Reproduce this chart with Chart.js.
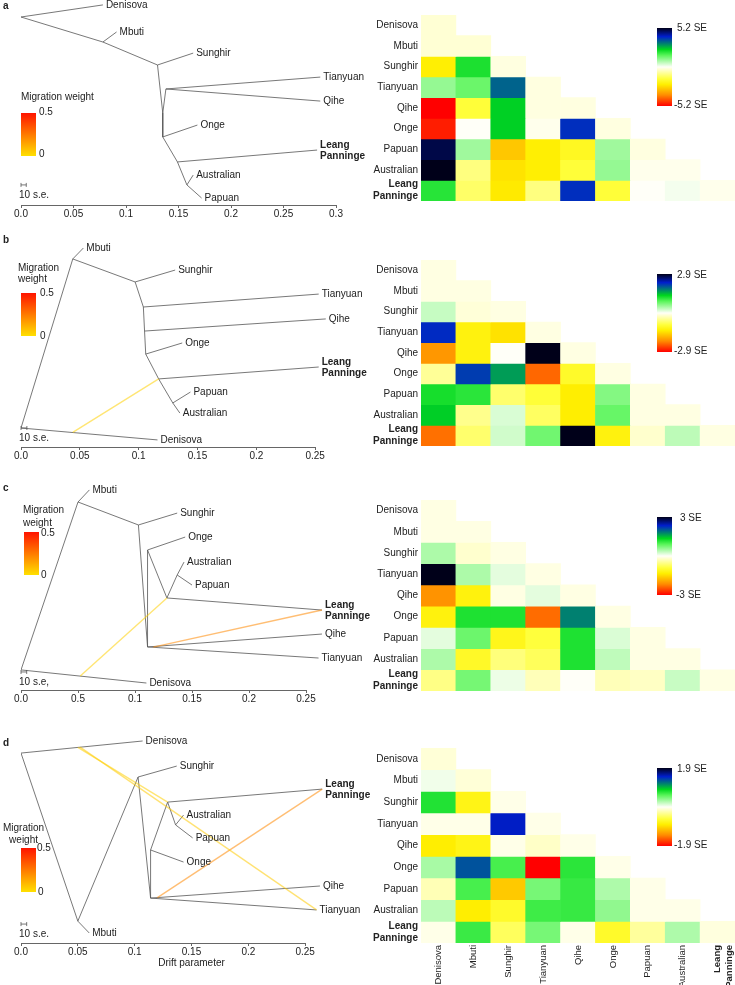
<!DOCTYPE html>
<html lang="en">
<head>
<meta charset="UTF-8">
<title>TreeMix graphs and residuals</title>
<script src="https://cdn.jsdelivr.net/npm/chart.js@4.4.1/dist/chart.umd.min.js"></script>
<style>
  body { margin:0; width:735px; height:985px; position:relative; overflow:hidden; background:#fff;
         font-family:"Liberation Sans", Arial, sans-serif; color:#222; }
  canvas { position:absolute; }
  .t { position:absolute; font-size:10px; line-height:12px; white-space:nowrap; }
  .b { font-weight:bold; }
  .mig { position:absolute; width:15px; background:linear-gradient(to bottom, #ff1400, #ff7a00 50%, #ffe000); }
  .cbar { position:absolute; left:657px; width:15px; height:78px; }
</style>
</head>
<body>
<!-- trees -->
<canvas id="treeA" width="420" height="232" style="left:0;top:-2px"></canvas>
<canvas id="treeB" width="420" height="237" style="left:0;top:235px"></canvas>
<canvas id="treeC" width="420" height="237" style="left:0;top:478px"></canvas>
<canvas id="treeD" width="420" height="262" style="left:0;top:715px"></canvas>
<!-- residual matrices -->
<canvas id="heatA" width="385" height="210" style="left:360px;top:0"></canvas>
<canvas id="heatB" width="385" height="210" style="left:360px;top:245px"></canvas>
<canvas id="heatC" width="385" height="215" style="left:360px;top:485px"></canvas>
<canvas id="heatD" width="385" height="270" style="left:360px;top:715px"></canvas>

<div class="t b" style="left:3px;top:0">a</div>
<div class="t b" style="left:3px;top:234px">b</div>
<div class="t b" style="left:3px;top:482px">c</div>
<div class="t b" style="left:3px;top:737px">d</div>

<!-- migration weight legends -->
<div class="t" style="left:21px;top:91px">Migration weight</div>
<div class="mig" style="left:21px;top:113px;height:43px"></div>
<div class="t" style="left:39px;top:106px">0.5</div>
<div class="t" style="left:39px;top:148px">0</div>

<div class="t" style="left:18px;top:262px;line-height:11px">Migration<br>weight</div>
<div class="mig" style="left:21px;top:293px;height:43px"></div>
<div class="t" style="left:40px;top:287px">0.5</div>
<div class="t" style="left:40px;top:330px">0</div>

<div class="t" style="left:23px;top:503px;line-height:13px">Migration<br>weight</div>
<div class="mig" style="left:24px;top:532px;height:43px"></div>
<div class="t" style="left:41px;top:527px">0.5</div>
<div class="t" style="left:41px;top:569px">0</div>

<div class="t" style="left:3px;top:822px;text-align:center">Migration<br>weight</div>
<div class="mig" style="left:21px;top:848px;height:44px"></div>
<div class="t" style="left:37px;top:842px">0.5</div>
<div class="t" style="left:38px;top:886px">0</div>

<!-- residual colour bars -->
<div class="cbar" id="cbarA" style="top:28px"></div>
<div class="t" style="left:677px;top:22px">5.2 SE</div>
<div class="t" style="left:674px;top:99px">-5.2 SE</div>
<div class="cbar" id="cbarB" style="top:274px"></div>
<div class="t" style="left:677px;top:269px">2.9 SE</div>
<div class="t" style="left:674px;top:345px">-2.9 SE</div>
<div class="cbar" id="cbarC" style="top:517px"></div>
<div class="t" style="left:680px;top:512px">3 SE</div>
<div class="t" style="left:676px;top:589px">-3 SE</div>
<div class="cbar" id="cbarD" style="top:768px"></div>
<div class="t" style="left:677px;top:763px">1.9 SE</div>
<div class="t" style="left:674px;top:839px">-1.9 SE</div>

<script>
  const FONT = '"Liberation Sans", Arial, sans-serif';

  // populations, in residual-matrix order
  const popLabels = ['Denisova', 'Mbuti', 'Sunghir', 'Tianyuan', 'Qihe', 'Onge', 'Papuan', 'Australian', 'Leang Panninge'];

  // drift axis ticks
  const driftTicksA = [0, 0.05, 0.1, 0.15, 0.2, 0.25, 0.3];
  const driftTickTextA = ['0.0', '0.05', '0.1', '0.15', '0.2', '0.25', '0.3'];
  const driftTicks = [0, 0.05, 0.1, 0.15, 0.2, 0.25];
  const driftTickText = ['0.0', '0.05', '0.1', '0.15', '0.2', '0.25'];
  const driftTickTextC = ['0.0', '0.5', '0.1', '0.15', '0.2', '0.25'];

  // --- tree a ---
  const nodesA = ['_r', 'Denisova', '_m', 'Mbuti', '_s', 'Sunghir', '_a', '_tq', 'Tianyuan', 'Qihe', '_o', 'Onge', '_l', 'Leang Panninge', '_ap', 'Australian', 'Papuan'];
  const driftA = [0, 0.078, 0.078, 0.091, 0.130, 0.164, 0.135, 0.138, 0.285, 0.285, 0.135, 0.168, 0.149, 0.282, 0.158, 0.164, 0.172];
  const posA = [0.917, 0.976, 0.795, 0.844, 0.683, 0.741, 0.449, 0.566, 0.624, 0.507, 0.332, 0.390, 0.210, 0.268, 0.098, 0.146, 0.034];
  const edgesA = [['_r', 'Denisova'], ['_r', '_m'], ['_m', 'Mbuti'], ['_m', '_s'], ['_s', 'Sunghir'], ['_s', '_a'], ['_a', '_tq'],
    ['_tq', 'Tianyuan'], ['_tq', 'Qihe'], ['_a', '_o'], ['_o', 'Onge'], ['_o', '_l'], ['_l', 'Leang Panninge'], ['_l', '_ap'],
    ['_ap', 'Australian'], ['_ap', 'Papuan']];
  const migA = [];

  // --- tree b ---
  const nodesB = ['_r', 'Denisova', '_m', 'Mbuti', '_s', 'Sunghir', '_t', 'Tianyuan', '_q', 'Qihe', '_o', 'Onge', '_l', 'Leang Panninge', '_ap', 'Papuan', 'Australian', '_mg1'];
  const driftB = [0, 0.116, 0.044, 0.053, 0.097, 0.131, 0.104, 0.253, 0.105, 0.259, 0.106, 0.137, 0.117, 0.253, 0.129, 0.144, 0.135, 0.044];
  const posB = [0.094, 0.035, 0.931, 0.985, 0.817, 0.876, 0.693, 0.757, 0.574, 0.634, 0.460, 0.515, 0.337, 0.396, 0.218, 0.272, 0.168, 0.072];
  const edgesB = [['_r', 'Denisova'], ['_r', '_m'], ['_m', 'Mbuti'], ['_m', '_s'], ['_s', 'Sunghir'], ['_s', '_t'], ['_t', 'Tianyuan'],
    ['_t', '_q'], ['_q', 'Qihe'], ['_q', '_o'], ['_o', 'Onge'], ['_o', '_l'], ['_l', 'Leang Panninge'], ['_l', '_ap'],
    ['_ap', 'Papuan'], ['_ap', 'Australian']];
  const migB = [['_mg1', '_l', 0.02]];

  // --- tree c ---
  const nodesC = ['_r', 'Denisova', '_m', 'Mbuti', '_s', 'Sunghir', '_x', 'Qihe', 'Tianyuan', '_o', 'Onge', '_l', 'Leang Panninge', '_ap', 'Australian', 'Papuan', '_mg1', '_mg2'];
  const driftC = [0, 0.110, 0.050, 0.060, 0.103, 0.137, 0.111, 0.264, 0.261, 0.111, 0.144, 0.128, 0.264, 0.137, 0.143, 0.150, 0.052, 0.116];
  const posC = [0.098, 0.034, 0.917, 0.976, 0.805, 0.863, 0.210, 0.273, 0.156, 0.683, 0.746, 0.449, 0.390, 0.561, 0.624, 0.512, 0.068, 0.209];
  const edgesC = [['_r', 'Denisova'], ['_r', '_m'], ['_m', 'Mbuti'], ['_m', '_s'], ['_s', 'Sunghir'], ['_s', '_x'], ['_x', 'Qihe'],
    ['_x', 'Tianyuan'], ['_x', '_o'], ['_o', 'Onge'], ['_o', '_l'], ['_l', 'Leang Panninge'], ['_l', '_ap'],
    ['_ap', 'Australian'], ['_ap', 'Papuan']];
  const migC = [['_mg1', '_l', 0.02], ['_mg2', 'Leang Panninge', 0.2]];

  // --- tree d ---
  const nodesD = ['_r', 'Denisova', '_m', 'Mbuti', '_s', 'Sunghir', '_x', 'Qihe', 'Tianyuan', '_o', 'Onge', '_l', 'Leang Panninge', '_ap', 'Australian', 'Papuan', '_mg1', '_mg2', '_mg3'];
  const driftD = [0, 0.107, 0.050, 0.060, 0.103, 0.137, 0.114, 0.263, 0.260, 0.114, 0.143, 0.129, 0.265, 0.136, 0.143, 0.151, 0.050, 0.052, 0.120];
  const posD = [0.833, 0.886, 0.096, 0.044, 0.728, 0.776, 0.197, 0.250, 0.145, 0.408, 0.355, 0.618, 0.675, 0.518, 0.561, 0.461, 0.858, 0.859, 0.199];
  const edgesD = [['_r', 'Denisova'], ['_r', '_m'], ['_m', 'Mbuti'], ['_m', '_s'], ['_s', 'Sunghir'], ['_s', '_x'], ['_x', 'Qihe'],
    ['_x', 'Tianyuan'], ['_x', '_o'], ['_o', 'Onge'], ['_o', '_l'], ['_l', 'Leang Panninge'], ['_l', '_ap'],
    ['_ap', 'Australian'], ['_ap', 'Papuan']];
  const migD = [['_mg1', '_l', 0.02], ['_mg2', 'Tianyuan', 0.03], ['_mg3', 'Leang Panninge', 0.2]];

  // residuals (SE), lower triangle, rows in popLabels order
  const residA = [
    [-0.3],
    [-0.3, -0.3],
    [-2.3, 2.1, -0.2],
    [1.0, 1.4, 3.4, -0.2],
    [-5.2, -1.6, 2.4, -0.2, -0.2],
    [-4.9, 0.0, 2.4, -0.1, 3.9, -0.2],
    [4.9, 0.9, -2.9, -2.3, -1.9, 0.9, -0.2],
    [5.2, -1.0, -2.5, -2.3, -1.6, 1.0, -0.1, -0.1],
    [2.0, -1.2, -2.4, -1.0, 3.9, -1.6, 0.0, 0.1, -0.1]
  ];
  const residB = [
    [-0.1],
    [-0.1, -0.1],
    [0.3, -0.15, -0.1],
    [2.2, -1.2, -1.4, -0.1],
    [-2.0, -1.2, 0.0, 2.9, -0.1],
    [-0.45, 2.1, 1.6, -2.3, -1.0, -0.1],
    [1.2, 1.1, -0.65, -0.9, -1.3, 0.65, -0.1],
    [1.35, -0.5, 0.2, -0.7, -1.3, 0.8, -0.1, -0.1],
    [-2.25, -0.65, 0.25, 0.75, 2.9, -1.2, -0.2, 0.35, -0.1]
  ];
  const residC = [
    [-0.1],
    [-0.1, -0.1],
    [0.45, -0.2, -0.1],
    [3.0, 0.45, 0.15, -0.1],
    [-2.1, -1.25, -0.1, 0.15, -0.1],
    [-1.25, 1.2, 1.2, -2.35, 1.8, -0.1],
    [0.15, 0.8, -1.15, -0.9, 1.2, 0.2, -0.1],
    [0.45, -1.05, -0.6, -0.75, 1.2, 0.35, -0.1, -0.1],
    [-0.55, 0.75, 0.1, -0.3, 0.0, -0.3, -0.25, 0.3, -0.1]
  ];
  const residD = [
    [-0.1],
    [0.05, -0.1],
    [0.75, -0.75, -0.05],
    [-0.05, -0.05, 1.5, -0.05],
    [-0.85, -0.75, -0.05, -0.15, -0.05],
    [0.3, 1.3, 0.63, -1.9, 0.72, -0.05],
    [-0.2, 0.63, -1.05, 0.47, 0.68, 0.28, -0.05],
    [0.23, -0.85, -0.65, 0.66, 0.68, 0.38, -0.05, -0.05],
    [-0.05, 0.67, -0.47, 0.47, -0.05, -0.65, -0.28, 0.28, -0.08]
  ];

  // residual palette: value / max -> colour
  const residStops = [
    [-1, [255, 0, 0]], [-0.72, [255, 140, 0]], [-0.45, [255, 238, 0]], [-0.3, [255, 255, 60]],
    [0, [255, 255, 248]], [0.3, [90, 245, 90]], [0.45, [0, 215, 30]], [0.6, [0, 128, 112]],
    [0.78, [0, 30, 205]], [1, [0, 0, 25]]
  ];

  function mixRGB(stops, v) {
    if (v <= stops[0][0]) return stops[0][1];
    for (let i = 1; i < stops.length; i++) {
      if (v <= stops[i][0]) {
        const [v0, c0] = stops[i - 1], [v1, c1] = stops[i];
        const t = (v - v0) / (v1 - v0);
        return c0.map((c, k) => Math.round(c + (c1[k] - c) * t));
      }
    }
    return stops[stops.length - 1][1];
  }
  const residColor = n => `rgb(${mixRGB(residStops, n).join(',')})`;

  function migColor(w) {
    const c = mixRGB([[0, [255, 215, 0]], [0.5, [255, 20, 0]]], w);
    return `rgba(${c.join(',')},0.55)`;
  }

  // colour bars
  const cbarCss = 'linear-gradient(to bottom,' + residStops.slice().reverse()
    .map(([n, c]) => `rgb(${c.join(',')}) ${((1 - n) / 2 * 100).toFixed(1)}%`).join(',') + ')';
  ['cbarA', 'cbarB', 'cbarC', 'cbarD'].forEach(id => { document.getElementById(id).style.background = cbarCss; });

  function makeTree(id, nodes, xs, ys, edges, migs, cfg) {
    const pt = n => { const i = nodes.indexOf(n); return { x: xs[i], y: ys[i] }; };
    const line = (a, b, color, w) => ({
      data: [pt(a), pt(b)], showLine: true, borderColor: color, borderWidth: w,
      pointRadius: 0, pointHoverRadius: 0, fill: false
    });
    // migration edges first so they sit on top
    const datasets = migs.map(([a, b, w]) => line(a, b, migColor(w), 1.4))
      .concat(edges.map(([a, b]) => line(a, b, '#555', 0.8)));

    const deco = {
      id: 'treeDeco',
      afterDatasetsDraw(chart) {
        const { ctx, chartArea } = chart;
        const x = chart.scales.x, y = chart.scales.y;
        ctx.save();
        // drift axis line
        ctx.strokeStyle = '#666';
        ctx.lineWidth = 1;
        ctx.beginPath();
        ctx.moveTo(x.getPixelForValue(0), chartArea.bottom + 0.5);
        ctx.lineTo(x.getPixelForValue(cfg.axisEnd), chartArea.bottom + 0.5);
        ctx.stroke();
        // tip labels
        ctx.fillStyle = '#222';
        ctx.textAlign = 'left';
        ctx.textBaseline = 'middle';
        nodes.forEach((n, i) => {
          if (n[0] === '_') return;
          const px = x.getPixelForValue(xs[i]) + 3, py = y.getPixelForValue(ys[i]);
          if (n === 'Leang Panninge') {
            ctx.font = 'bold 10px ' + FONT;
            ctx.fillText('Leang', px, py - 5);
            ctx.fillText('Panninge', px, py + 6);
          } else {
            ctx.font = '10px ' + FONT;
            ctx.fillText(n, px, py);
          }
        });
        // 10 s.e. bar
        const sx0 = x.getPixelForValue(0), sx1 = x.getPixelForValue(0.005), sy = y.getPixelForValue(cfg.seY);
        ctx.strokeStyle = '#555';
        ctx.lineWidth = 0.8;
        ctx.beginPath();
        ctx.moveTo(sx0, sy); ctx.lineTo(sx1, sy);
        ctx.moveTo(sx0, sy - 2); ctx.lineTo(sx0, sy + 2);
        ctx.moveTo(sx1, sy - 2); ctx.lineTo(sx1, sy + 2);
        ctx.stroke();
        ctx.font = '10px ' + FONT;
        ctx.fillText(cfg.seText, sx0 - 2, sy + 10);
        ctx.restore();
      }
    };

    new Chart(document.getElementById(id), {
      type: 'scatter',
      data: { datasets },
      plugins: [deco],
      options: {
        responsive: false,
        animation: false,
        events: [],
        layout: { padding: { left: 21, right: cfg.padR, top: cfg.padT, bottom: 0 } },
        plugins: { legend: { display: false }, tooltip: { enabled: false } },
        scales: {
          x: {
            type: 'linear', min: 0, max: cfg.xmax,
            afterBuildTicks: s => { s.ticks = cfg.ticks.map(v => ({ value: v })); },
            afterFit: s => { s.height = cfg.axisH; },
            ticks: {
              callback: (v, i) => cfg.tickText[i],
              font: { size: 10, family: FONT }, color: '#222', padding: 0,
              maxRotation: 0, autoSkip: false
            },
            grid: { drawOnChartArea: false, drawTicks: true, tickLength: 3, color: '#666' },
            border: { display: false },
            title: cfg.title
              ? { display: true, text: cfg.title, font: { size: 10, family: FONT }, color: '#222', padding: { top: 0, bottom: 8 } }
              : { display: false }
          },
          y: { type: 'linear', min: 0, max: 1, display: false }
        }
      }
    });
  }

  function makeHeat(id, resid, maxSE, cfg) {
    const datasets = resid.map((row, r) => ({
      data: popLabels.map((_, c) => (c < row.length ? [r, r + 1] : null)),
      backgroundColor: popLabels.map((_, c) => (c < row.length ? residColor(row[c] / maxSE) : 'rgba(0,0,0,0)')),
      borderWidth: 0, barPercentage: 1, categoryPercentage: 1, grouped: false
    }));
    const labelFont = size => ctx => ({ size, family: FONT, weight: ctx.index === 8 ? 'bold' : 'normal' });
    const labelText = i => (i === 8 ? ['Leang', 'Panninge'] : popLabels[i]);

    new Chart(document.getElementById(id), {
      type: 'bar',
      data: { labels: popLabels, datasets },
      options: {
        responsive: false,
        animation: false,
        events: [],
        layout: { padding: { left: 0, right: 10, top: cfg.padT, bottom: cfg.padB } },
        plugins: { legend: { display: false }, tooltip: { enabled: false } },
        scales: {
          x: {
            type: 'category', display: cfg.showX,
            grid: { display: false, drawTicks: false }, border: { display: false },
            afterFit: s => { if (cfg.showX) s.height = 42; },
            ticks: {
              minRotation: 90, maxRotation: 90, autoSkip: false, padding: 2,
              color: '#222', font: labelFont(9.5), callback: (v, i) => labelText(i)
            }
          },
          y: {
            type: 'linear', min: 0, max: 9, reverse: true,
            grid: { display: false, drawTicks: false }, border: { display: false },
            afterBuildTicks: s => { s.ticks = popLabels.map((_, i) => ({ value: i + 0.5 })); },
            afterFit: s => { s.width = 61; },
            ticks: { autoSkip: false, padding: 3, color: '#222', font: labelFont(10), callback: (v, i) => labelText(i) }
          }
        }
      }
    });
  }

  makeTree('treeA', nodesA, driftA, posA, edgesA, migA,
    { padT: 2, xmax: 0.3, padR: 84, ticks: driftTicksA, tickText: driftTickTextA, axisEnd: 0.3, axisH: 25, seY: 0.098, seText: '10 s.e.' });
  makeTree('treeB', nodesB, driftB, posB, edgesB, migB,
    { padT: 10, xmax: 0.3, padR: 46, ticks: driftTicks, tickText: driftTickText, axisEnd: 0.25, axisH: 25, seY: 0.094, seText: '10 s.e.' });
  makeTree('treeC', nodesC, driftC, posC, edgesC, migC,
    { padT: 7, xmax: 0.3, padR: 57, ticks: driftTicks, tickText: driftTickTextC, axisEnd: 0.25, axisH: 25, seY: 0.088, seText: '10 s.e,' });
  makeTree('treeD', nodesD, driftD, posD, edgesD, migD,
    { padT: 0, xmax: 0.3, padR: 58, ticks: driftTicks, tickText: driftTickText, axisEnd: 0.25, axisH: 34, seY: 0.083, seText: '10 s.e.', title: 'Drift parameter' });

  makeHeat('heatA', residA, 5.2, { padT: 8, padB: 8, showX: false });
  makeHeat('heatB', residB, 2.9, { padT: 10, padB: 7, showX: false });
  makeHeat('heatC', residC, 3, { padT: 13, padB: 9, showX: false });
  makeHeat('heatD', residD, 1.9, { padT: 33, padB: 0, showX: true });
</script>
</body>
</html>
